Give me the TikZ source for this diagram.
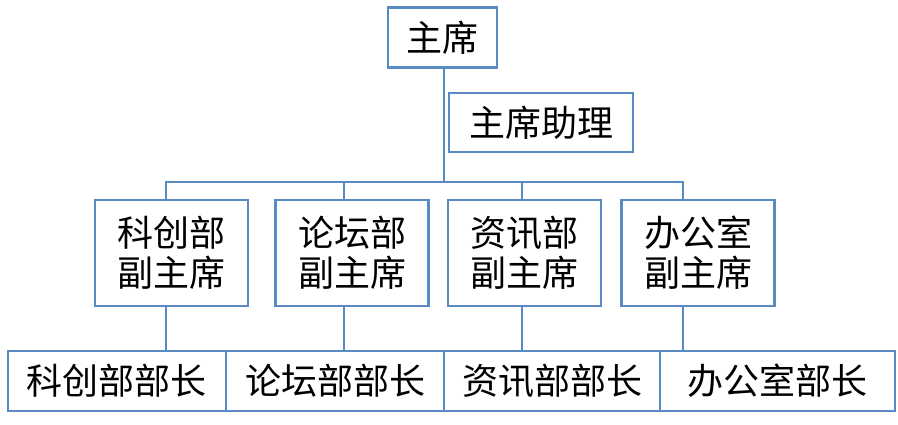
\documentclass[tikz,border=0pt]{standalone}
\usepackage{fontspec}
\setmainfont{Noto Sans CJK SC}
\definecolor{boxblue}{HTML}{5A8AC2}

\begin{document}
\begin{tikzpicture}[
  x=1pt, y=-1pt,
  every node/.style={font=\fontsize{36}{40}\selectfont, inner sep=0pt},
  post/.style={draw=boxblue, line width=2.2pt, minimum height=60pt},
  vice/.style={post, minimum width=153pt, minimum height=106pt, align=center},
  head/.style={post, minimum height=60pt},
  link/.style={draw=boxblue, line width=2.2pt}
]
\useasboundingbox (0,0) rectangle (898,424);
% top
\node[post, minimum width=109pt] (zx) at (442.5,37.5) {主席};
\node[post, minimum width=184pt, minimum height=59pt] (zl) at (541,122.5) {主席助理};
\coordinate (bus) at (444,182);
% vice chairs
\node[vice] (kcf) at (171.5,253) {科创部\\副主席};
\node[vice] (ltf) at (352,253) {论坛部\\副主席};
\node[vice] (zxf) at (524.5,253) {资讯部\\副主席};
\node[vice] (bgf) at (698,253) {办公室\\副主席};
% heads
\node[head, minimum width=218pt] (kcz) at (117,381) {科创部部长};
\node[head, minimum width=218pt] (ltz) at (335,381) {论坛部部长};
\node[head, minimum width=216pt] (zxz) at (552,381) {资讯部部长};
\node[head, minimum width=235pt] (bgz) at (777.5,381) {办公室部长};
% links
\draw[link] (zx.south -| bus) -- (bus);
\draw[link] ([xshift=-5.5pt]kcf.north) |- (bus) -| ([xshift=-15pt]bgf.north);
\foreach \v/\dx in {ltf/-8, zxf/-2.5}
  \draw[link] ([xshift=\dx pt]\v.north) -- ([xshift=\dx pt]\v.north |- bus);
\foreach \v/\h/\dx in {kcf/kcz/-5.5, ltf/ltz/-8, zxf/zxz/-2.5, bgf/bgz/-15}
  \draw[link] ([xshift=\dx pt]\v.south) -- ([xshift=\dx pt]\v.south |- \h.north);
\end{tikzpicture}
\end{document}
